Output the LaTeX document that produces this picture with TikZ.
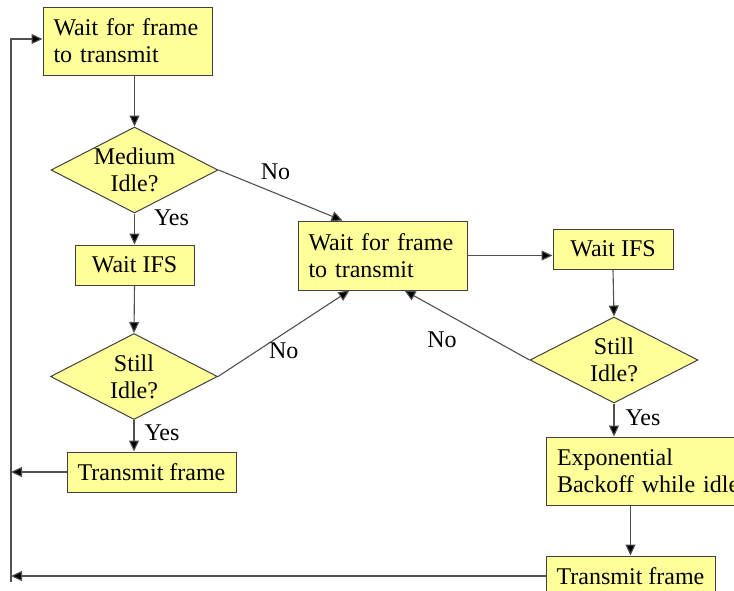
\documentclass[tikz,border=0pt]{standalone}
\usepackage{fontspec}
\setmainfont{Liberation Serif}
\usepackage{tikz}
\usetikzlibrary{arrows.meta,positioning,calc,shapes.geometric}

\definecolor{boxfill}{HTML}{FFFF99}
\definecolor{boxline}{HTML}{404040}
\definecolor{wire}{HTML}{505050}

\begin{document}
\begin{tikzpicture}[
  x=1pt, y=-1pt,
  >={Triangle[length=11pt, width=10pt, fill=black]},
  box/.style={draw=boxline, fill=boxfill, line width=1pt, rectangle,
              inner sep=0pt, font=\fontsize{24}{27}\selectfont},
  boxtwo/.style={box, minimum width=169pt, minimum height=68pt,
                 text width=148pt, align=left},
  boxone/.style={box, minimum height=40pt, align=center},
  dia/.style={draw=boxline, fill=boxfill, line width=1pt, diamond, aspect=1.94,
              inner sep=-4pt, minimum width=167pt, minimum height=86pt,
              align=center, font=\fontsize{24}{27}\selectfont},
  arr/.style={->, draw=wire, line width=1.1pt},
  lbl/.style={inner sep=0pt, font=\fontsize{24}{27}\selectfont},
]
\useasboundingbox (0,0) rectangle (734,590);

% left column
\node[boxtwo] (wait1) at (127.5,41) {Wait for frame\\to transmit};
\node[dia] (med) at (134.5,170) {Medium\\Idle?};
\node[boxone, minimum width=119pt] (ifs1) at (134.5,265) {Wait IFS};
\node[dia] (still1) at (134,376.5) {Still\\Idle?};
\node[boxone, minimum width=169pt] (tx1) at (151.5,472) {Transmit frame};

% middle and right column
\node[boxtwo, minimum height=69pt] (wait2) at (382.5,255.5) {Wait for frame\\to transmit};
\node[boxone, minimum width=120pt] (ifs2) at (613,249) {Wait IFS};
\node[dia, minimum width=168pt] (still2) at (614,360) {Still\\Idle?};
\node[boxtwo, text width=192pt, inner xsep=11pt] (expo) at (653,471)
  {Exponential\\Backoff while idle};
\node[boxone, minimum width=169pt] (tx3) at (630.5,576) {Transmit frame};

% loop back on the left
\coordinate (loopT) at (11,39);
\coordinate (loopB) at (11,582);

\draw[arr] (wait1.south -| med) -- (med.north);
\draw[arr] (med.east) -- ([xshift=45pt]wait2.north west)
  node[lbl, pos=0.46, above=13pt] {No};
\draw[arr] (med.south) -- (ifs1.north)
  node[lbl, pos=0.15, right=19pt] {Yes};
\draw[arr] (ifs1.south) -- (still1.north);
\draw[arr] (still1.east) -- ([xshift=52pt]wait2.south west)
  node[lbl, pos=0.5, below=9pt] {No};
\draw[arr] (still1.south) -- (still1.south |- tx1.north)
  node[lbl, pos=0.4, right=10pt] {Yes};
\draw[arr] (tx1.west) -- (tx1.west -| loopT);

\draw[arr] (wait2.east) -- (wait2.east -| ifs2.west);
\draw[arr] (ifs2.south) -- (still2.north);
\draw[arr] (still2.west) -- ([xshift=107pt]wait2.south west)
  node[lbl, pos=0.7, below=20pt] {No};
\draw[arr] (still2.south) -- (still2.south |- expo.north)
  node[lbl, pos=0.44, right=11pt] {Yes};
\draw[arr] (expo.south -| tx3) -- (tx3.north);
\draw[arr] (tx3.west) -- (tx3.west -| loopB);

\draw[arr] (loopB) -- (loopT) -- (loopT -| wait1.west);
\end{tikzpicture}
\end{document}
